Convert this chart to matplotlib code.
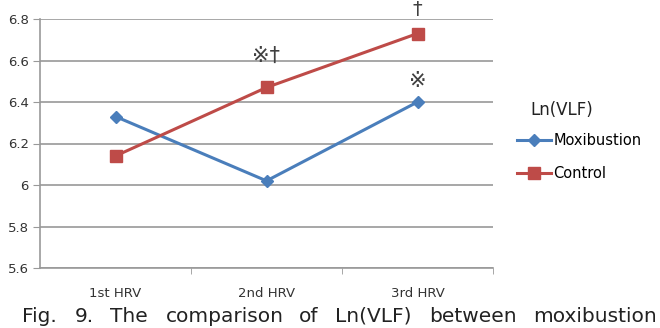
import matplotlib
matplotlib.use("Agg")
import matplotlib.pyplot as plt

categories = ["1st HRV", "2nd HRV", "3rd HRV"]
moxibustion = [6.33, 6.02, 6.40]
control = [6.14, 6.47, 6.73]
yticks = [5.6, 5.8, 6.0, 6.2, 6.4, 6.6, 6.8]
ytick_labels = ["5.6", "5.8", "6", "6.2", "6.4", "6.6", "6.8"]
caption_words = ["Fig.", "9.", "The", "comparison", "of", "Ln(VLF)", "between", "moxibustion"]
caption_x = [22, 75, 110, 166, 299, 335, 429, 533]  # left edge of each word, px

plt.rcParams['font.family'] = ['DejaVu Sans', 'Noto Sans CJK KR']

W, H = 660, 328
fig = plt.figure(figsize=(W/100, H/100), dpi=100)
ax = fig.add_axes([40/W, 1-268/H, 453/W, 249/H])

x = range(len(categories))
ax.plot(x, moxibustion, color='#4a7ebb', marker='D', markersize=6, lw=2.2, label='Moxibustion')
ax.plot(x, control, color='#be4b48', marker='s', markersize=8, lw=2.2, label='Control')

ax.set_xlim(-0.5, 2.5)
ax.set_ylim(5.6, 6.8)
ax.set_yticks(yticks)
ax.set_yticklabels(ytick_labels, fontsize=9.5, color='#333333')
ax.set_xticks(x)
ax.set_xticklabels(categories, fontsize=9.5, color='#333333')
ax.tick_params(axis='x', length=0, pad=14)
ax.tick_params(axis='y', length=5, color='#999999', pad=3)
ax.set_xticks([0.5, 1.5, 2.5], minor=True)
ax.tick_params(axis='x', which='minor', length=4, color='#999999')
ax.grid(axis='y', color='#a0a0a0', lw=1.3)
ax.set_axisbelow(True)
for s in ['top', 'right']:
    ax.spines[s].set_visible(False)
for s in ['left', 'bottom']:
    ax.spines[s].set_color('#999999')
    ax.spines[s].set_linewidth(1.2)

# significance marks
ax.text(1, 6.575, "※†", ha='center', va='bottom', fontsize=15, color='#404040')
ax.text(2, 6.455, "※", ha='center', va='bottom', fontsize=15, color='#404040')
ax.text(2, 6.8, "†", ha='center', va='bottom', fontsize=14, color='#404040', clip_on=False)

ax.legend(loc='upper left', bbox_to_anchor=(517/W, 1-133/H), bbox_transform=fig.transFigure,
          frameon=False, fontsize=10.5, handlelength=2.3, handletextpad=0.2,
          labelspacing=1.25, borderpad=0, borderaxespad=0)
fig.text(530/W, 1-110/H, "Ln(VLF)", fontsize=12, ha='left', va='center', color='#222222')

for word, px in zip(caption_words, caption_x):
    fig.text(px/W, 1-322/H, word, fontsize=14.5, ha='left', va='baseline', color='#222222')

fig.savefig("out.png", dpi=100)
